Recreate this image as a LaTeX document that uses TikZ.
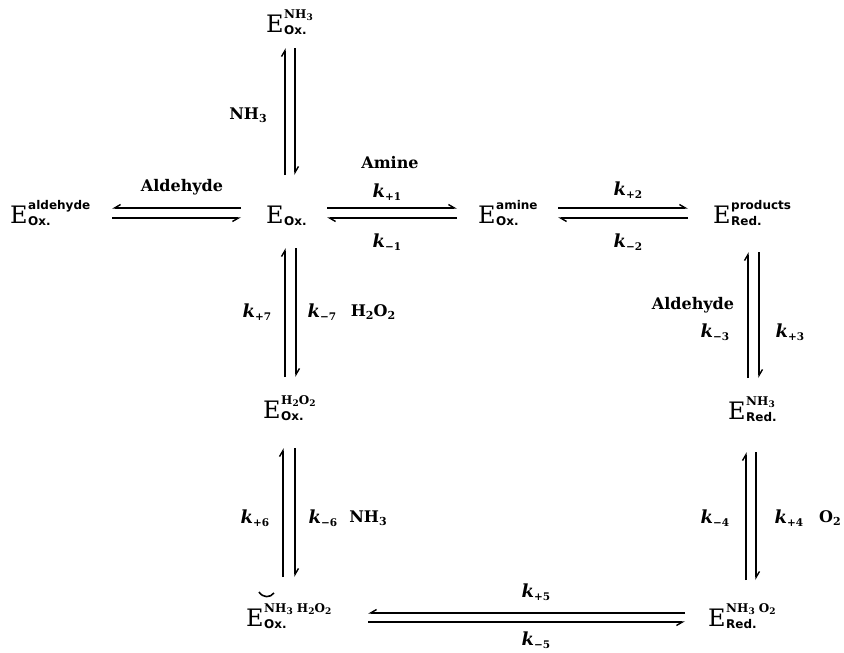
\documentclass[tikz,border=0pt]{standalone}
\usepackage{fontspec}
\setmainfont{DejaVu Serif}
\setsansfont{DejaVu Sans}
\usetikzlibrary{arrows.meta}
\newcommand\Ee[2]{{\fontsize{24}{24}\selectfont E}\kern0.5pt\raisebox{-2.5pt}{\fontsize{12}{16}\selectfont\bfseries\begin{tabular}[b]{@{}l@{}}#1\\#2\end{tabular}}}
\newcommand\sOx{\textsf{Ox.}}
\newcommand\sRed{\textsf{Red.}}
\newcommand\supsub[1]{\raisebox{-1.5pt}{\fontsize{9}{9}\selectfont #1}}
\newcommand\labsub[1]{\raisebox{-2.5pt}{\fontsize{11}{11}\selectfont #1}}
\newcommand\kk[1]{{\fontsize{18}{18}\selectfont\textbf{\textit{k}}}\raisebox{-3pt}{\fontsize{10.5}{10.5}\selectfont\bfseries #1}}
\tikzset{
  enz/.style={anchor=base west, inner sep=0pt},
  lab/.style={inner sep=0pt, font=\fontsize{16}{16}\selectfont\bfseries},
  eq/.style={line width=1.4pt, -{Straight Barb[harpoon,length=6pt,width=7pt]}},
  eqs/.style={line width=1.4pt, -{Straight Barb[harpoon,swap,length=6pt,width=7pt]}}
}
\begin{document}
\begin{tikzpicture}[x=1pt,y=-1pt]
\useasboundingbox (0,0) rectangle (844,653);
% enzyme states
\node[enz] (Eald) at (10,223) {\Ee{\textsf{aldehyde}}{\sOx}};
\node[enz] (Eox) at (266,223) {\Ee{}{\sOx}};
\node[enz] (Eam) at (478,223) {\Ee{\textsf{amine}}{\sOx}};
\node[enz] (Eprod) at (713,223) {\Ee{\textsf{products}}{\sRed}};
\node[enz] (Enh) at (266,32) {\Ee{NH\supsub{3}}{\sOx}};
\node[enz] (Eh2) at (263,418) {\Ee{H\supsub{2}O\supsub{2}}{\sOx}};
\node[enz] (Erednh) at (728,419) {\Ee{NH\supsub{3}}{\sRed}};
\node[enz] (Ebl) at (246,626) {\Ee{NH\supsub{3} H\supsub{2}O\supsub{2}}{\sOx}};
\node[enz] (Ebr) at (708,626) {\Ee{NH\supsub{3} O\supsub{2}}{\sRed}};
% mark above bottom-left E
\draw[line width=1.6pt] (259,592) .. controls (263,598) and (270,598) .. (274,593);
% horizontal equilibria
\draw[eqs] ([shift={(-25,-15)}]Eox.base west) -- ([shift={(102,-15)}]Eald.base west);
\draw[eqs] ([shift={(102,-5)}]Eald.base west) -- ([shift={(-25,-5)}]Eox.base west);
\draw[eq] ([shift={(61,-15)}]Eox.base west) -- ([shift={(-21,-15)}]Eam.base west);
\draw[eq] ([shift={(-21,-5)}]Eam.base west) -- ([shift={(61,-5)}]Eox.base west);
\draw[eq] ([shift={(80,-15)}]Eam.base west) -- ([shift={(-25,-15)}]Eprod.base west);
\draw[eq] ([shift={(-25,-5)}]Eprod.base west) -- ([shift={(80,-5)}]Eam.base west);
\draw[eqs] ([shift={(-23,-13)}]Ebr.base west) -- ([shift={(122,-13)}]Ebl.base west);
\draw[eqs] ([shift={(122,-4)}]Ebl.base west) -- ([shift={(-23,-4)}]Ebr.base west);
% vertical equilibria
\draw[eq] ([shift={(19,-48)}]Eox.base west) -- ([shift={(19,16)}]Enh.base west);
\draw[eq] ([shift={(29,16)}]Enh.base west) -- ([shift={(29,-48)}]Eox.base west);
\draw[eq] ([shift={(22,-41)}]Eh2.base west) -- ([shift={(19,25)}]Eox.base west);
\draw[eq] ([shift={(30,25)}]Eox.base west) -- ([shift={(33,-41)}]Eh2.base west);
\draw[eq] ([shift={(37,-49)}]Ebl.base west) -- ([shift={(20,30)}]Eh2.base west);
\draw[eq] ([shift={(32,30)}]Eh2.base west) -- ([shift={(49,-49)}]Ebl.base west);
\draw[eq] ([shift={(20,-41)}]Erednh.base west) -- ([shift={(35,29)}]Eprod.base west);
\draw[eq] ([shift={(46,29)}]Eprod.base west) -- ([shift={(31,-41)}]Erednh.base west);
\draw[eq] ([shift={(38,-46)}]Ebr.base west) -- ([shift={(18,33)}]Erednh.base west);
\draw[eq] ([shift={(28,33)}]Erednh.base west) -- ([shift={(48,-46)}]Ebr.base west);
% labels
\node[lab] (l1) at (248,115) {NH\labsub{3}};
\node[lab] (l2) at (182,187) {Aldehyde};
\node[lab] (l3) at (390,163) {Amine};
\node[lab] (l4) at (387,192) {\kk{+1}};
\node[lab] (l5) at (387,242) {\kk{−1}};
\node[lab] (l6) at (628,190) {\kk{+2}};
\node[lab] (l7) at (628,242) {\kk{−2}};
\node[lab] (l8) at (257,312) {\kk{+7}};
\node[lab] (l9) at (322,312) {\kk{−7}};
\node[lab] (l10) at (373,312) {H\labsub{2}O\labsub{2}};
\node[lab] (l11) at (255,518) {\kk{+6}};
\node[lab] (l12) at (323,518) {\kk{−6}};
\node[lab] (l13) at (368,518) {NH\labsub{3}};
\node[lab] (l14) at (693,305) {Aldehyde};
\node[lab] (l15) at (715,332) {\kk{−3}};
\node[lab] (l16) at (790,332) {\kk{+3}};
\node[lab] (l17) at (715,518) {\kk{−4}};
\node[lab] (l18) at (789,518) {\kk{+4}};
\node[lab] (l19) at (830,518) {O\labsub{2}};
\node[lab] (l20) at (536,592) {\kk{+5}};
\node[lab] (l21) at (536,640) {\kk{−5}};
\end{tikzpicture}
\end{document}
